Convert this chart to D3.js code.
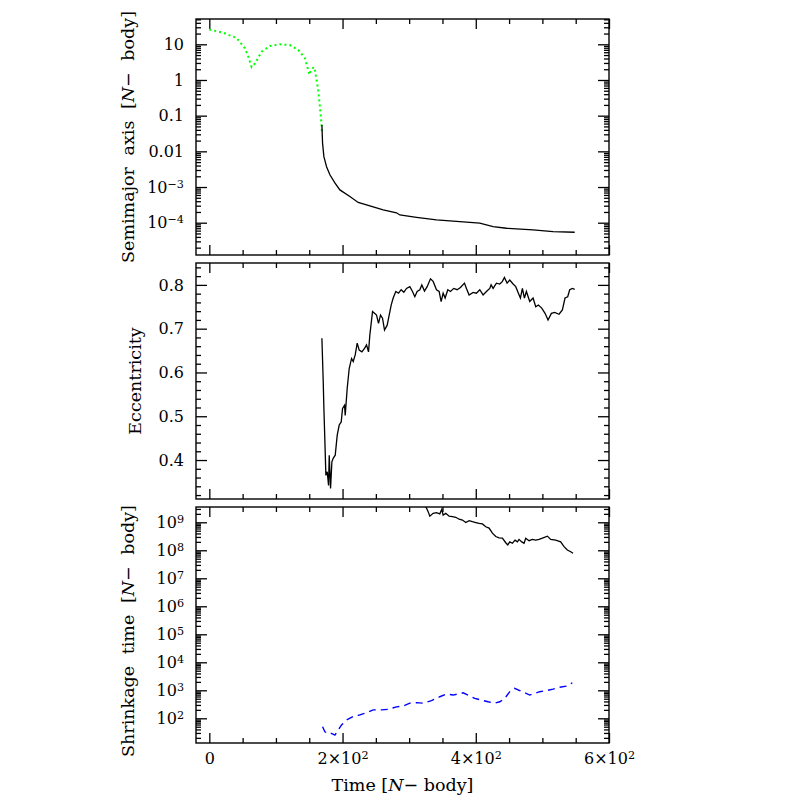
<!DOCTYPE html>
<html>
<head>
<meta charset="utf-8">
<script src="https://cdn.jsdelivr.net/npm/d3@7/dist/d3.min.js"></script>
<style>
  body { margin: 0; background: #fff; }
  text { font-family: "DejaVu Serif", serif; fill: #000; }
</style>
</head>
<body>
<svg width="797" height="797"></svg>
<script>
// --- data ---
// separation before the binary forms (green dotted)
const sepTime = [0, 21, 41, 53.5, 58.5, 63.5, 68.5, 78.5, 91, 106, 121, 133.5, 143.5, 148.5, 150, 152.5, 157, 158.5, 161, 163.5, 166, 168.5, 169];
const sepValue = [26, 21, 15, 7.7, 4.5, 2.3, 2.9, 6.2, 9, 10, 9.5, 7, 4.1, 1.9, 1.4, 1.9, 2.3, 1.9, 1, 0.52, 0.18, 0.055, 0.035];

// semimajor axis of the bound binary (black)
const semiTime = [169, 170, 172, 176, 181, 188.5, 196, 211, 223.5, 241, 261, 281, 286, 311, 341, 381, 406, 426, 446, 486, 516, 548.5];
const semiValue = [0.055, 0.017, 0.0071, 0.0037, 0.0022, 0.0013, 8.3e-4, 5.4e-4, 3.7e-4, 2.95e-4, 2.3e-4, 1.9e-4, 1.65e-4, 1.42e-4, 1.2e-4, 1.05e-4, 9.7e-5, 7.8e-5, 7e-5, 6.3e-5, 5.6e-5, 5.4e-5];

// eccentricity
const eccTime = [169, 171, 172, 175, 177, 179, 180, 182, 184, 186, 189, 192, 195, 198, 200, 203, 204, 207, 210, 213.5, 216, 219, 222, 225, 229, 233, 236, 239, 241, 245, 248, 251, 254, 257, 260, 263, 267, 270, 273, 276, 280, 284, 288, 292, 296, 301, 305, 308.5, 312, 316, 319, 323, 327, 332, 336, 341, 345, 348, 351, 354, 358, 362, 367, 372, 377, 383, 386, 390, 396, 401, 406, 411, 416, 421, 423, 426, 431, 436, 440, 443, 447, 451, 456, 460, 464, 467, 470, 473, 476, 481, 486, 490, 494, 499, 504, 508.5, 513.5, 518.5, 525, 530, 534, 538, 541, 545, 548.5];
const eccValue = [0.678, 0.579, 0.518, 0.365, 0.373, 0.342, 0.411, 0.335, 0.396, 0.404, 0.411, 0.457, 0.48, 0.487, 0.518, 0.525, 0.502, 0.564, 0.609, 0.632, 0.625, 0.64, 0.667, 0.651, 0.647, 0.655, 0.663, 0.647, 0.686, 0.739, 0.735, 0.731, 0.712, 0.731, 0.724, 0.697, 0.708, 0.731, 0.754, 0.77, 0.785, 0.781, 0.789, 0.783, 0.792, 0.796, 0.785, 0.773, 0.785, 0.789, 0.8, 0.786, 0.796, 0.814, 0.808, 0.789, 0.785, 0.762, 0.781, 0.77, 0.789, 0.785, 0.792, 0.789, 0.794, 0.804, 0.792, 0.777, 0.783, 0.781, 0.789, 0.777, 0.785, 0.792, 0.8, 0.792, 0.804, 0.802, 0.808, 0.817, 0.804, 0.811, 0.802, 0.796, 0.781, 0.77, 0.792, 0.77, 0.785, 0.762, 0.77, 0.75, 0.754, 0.747, 0.735, 0.72, 0.735, 0.737, 0.733, 0.743, 0.77, 0.773, 0.789, 0.792, 0.79];

// shrinkage time, N-body (black solid)
const shrinkTime = [320, 325, 328.5, 331, 336, 341, 346, 349, 351, 355, 360, 365, 370, 375, 380, 385, 390, 395, 400, 405, 410, 415, 420, 425, 430, 435, 440, 445, 448, 451, 455, 459, 462.5, 465, 469, 472.5, 475, 480, 485, 490, 495, 500, 507.5, 512.5, 520, 527.5, 532.5, 537.5, 542.5, 546];
const shrinkValue = [4.5e9, 3.6e9, 2.4e9, 1.66e9, 2.1e9, 2.2e9, 2.0e9, 2.9e9, 1.8e9, 2.1e9, 1.66e9, 1.58e9, 1.51e9, 1.29e9, 1.2e9, 9.8e8, 1.15e9, 1.05e9, 9.8e8, 9.1e8, 8.7e8, 6.9e8, 6.2e8, 4.1e8, 3.1e8, 2.8e8, 2.7e8, 1.86e8, 1.55e8, 2.0e8, 1.78e8, 2.3e8, 2.0e8, 2.45e8, 2.0e8, 1.78e8, 2.7e8, 2.2e8, 2.45e8, 2.3e8, 2.45e8, 2.7e8, 3.2e8, 2.45e8, 2.3e8, 2.0e8, 1.35e8, 1.02e8, 8.9e7, 7.8e7];

// shrinkage time, estimate (blue dashed)
const estTime = [170, 173.5, 178.5, 183.5, 188.5, 193.5, 198.5, 206, 216, 226, 236, 246, 258.5, 268.5, 281, 291, 301, 311, 321, 333.5, 346, 356, 366, 381, 391, 398.5, 408.5, 418.5, 428.5, 436, 443.5, 451, 458.5, 466, 473.5, 481, 488.5, 496, 506, 516, 526, 536, 545];
const estValue = [50, 33, 28, 29, 25, 38, 58, 87, 115, 132, 158, 200, 200, 209, 257, 275, 347, 363, 347, 427, 589, 741, 676, 813, 631, 513, 447, 389, 347, 389, 513, 891, 1175, 977, 813, 676, 776, 891, 977, 1096, 1288, 1413, 1862];

const timeTicks = [0, 200, 400, 600];
const timeTickLabels = [["0", ""], ["2×10", "2"], ["4×10", "2"], ["6×10", "2"]];
const semiTicks = [10, 1, 0.1, 0.01, 1e-3, 1e-4];
const semiTickLabels = [["10", ""], ["1", ""], ["0.1", ""], ["0.01", ""], ["10", "−3"], ["10", "−4"]];
const eccTicks = [0.4, 0.5, 0.6, 0.7, 0.8];
const eccTickLabels = [["0.4", ""], ["0.5", ""], ["0.6", ""], ["0.7", ""], ["0.8", ""]];
const shrinkTicks = [1e2, 1e3, 1e4, 1e5, 1e6, 1e7, 1e8, 1e9];
const shrinkTickLabels = [["10", "2"], ["10", "3"], ["10", "4"], ["10", "5"], ["10", "6"], ["10", "7"], ["10", "8"], ["10", "9"]];

// --- layout ---
const svg = d3.select('svg');
const left = 196, right = 609, panelH = 236;
const tops = [19, 263, 507];

const x = d3.scaleLinear().domain([-20, 600]).range([0, right - left]);
const xMinor = d3.range(50, 600, 50).filter(v => v % 200 !== 0);

const zip = (a, b) => a.map((v, i) => [v, b[i]]);

function logMinor(scale) {
  const [lo, hi] = scale.domain();
  const out = [];
  for (let n = Math.floor(Math.log10(lo)); n <= Math.ceil(Math.log10(hi)); n++) {
    for (let k = 2; k <= 9; k++) {
      const v = k * Math.pow(10, n);
      if (v >= lo && v <= hi) out.push(v);
    }
  }
  return out;
}

function setLabel(sel, lab) {
  sel.text(lab[0]);
  if (lab[1]) sel.append('tspan').attr('dy', '-0.45em').attr('font-size', '70%').text(lab[1]);
}

function tickGroup(g, axis, tx, ty) {
  const a = g.append('g').attr('transform', 'translate(' + tx + ',' + ty + ')').call(axis);
  a.select('.domain').remove();
  a.selectAll('line').attr('stroke', '#000').attr('stroke-width', 1.3);
  return a;
}

function panel(idx, y, majors, minors, labels, majorLen, minorLen) {
  const w = right - left;
  const g = svg.append('g').attr('transform', 'translate(' + left + ',' + tops[idx] + ')');

  g.append('clipPath').attr('id', 'clip' + idx)
    .append('rect').attr('width', w).attr('height', panelH);

  // x ticks top & bottom
  tickGroup(g, d3.axisBottom(x).tickValues(timeTicks).tickSize(-10).tickFormat(''), 0, panelH);
  tickGroup(g, d3.axisBottom(x).tickValues(xMinor).tickSize(-5).tickFormat(''), 0, panelH);
  tickGroup(g, d3.axisTop(x).tickValues(timeTicks).tickSize(-10).tickFormat(''), 0, 0);
  tickGroup(g, d3.axisTop(x).tickValues(xMinor).tickSize(-5).tickFormat(''), 0, 0);

  // y ticks left & right
  const yl = tickGroup(g, d3.axisLeft(y).tickValues(majors).tickSize(-majorLen).tickPadding(12).tickFormat(''), 0, 0);
  tickGroup(g, d3.axisLeft(y).tickValues(minors).tickSize(-minorLen).tickFormat(''), 0, 0);
  tickGroup(g, d3.axisRight(y).tickValues(majors).tickSize(-majorLen).tickFormat(''), w, 0);
  tickGroup(g, d3.axisRight(y).tickValues(minors).tickSize(-minorLen).tickFormat(''), w, 0);

  yl.attr('font-size', null).attr('font-family', null);
  yl.selectAll('.tick text')
    .style('font-size', '16px')
    .each(function (d) {
      setLabel(d3.select(this), labels[majors.indexOf(d)]);
    });

  g.append('rect')
    .attr('width', w).attr('height', panelH)
    .attr('fill', 'none').attr('stroke', '#000').attr('stroke-width', 1.4);

  return g.append('g').attr('clip-path', 'url(#clip' + idx + ')');
}

function yTitle(cx, cy, pre, post) {
  const t = svg.append('text')
    .attr('transform', 'translate(' + cx + ',' + cy + ') rotate(-90)')
    .attr('text-anchor', 'middle')
    .style('font-size', '17.5px')
    .style('word-spacing', '6px');
  t.append('tspan').text(pre);
  if (post !== undefined) {
    t.append('tspan').attr('font-style', 'italic').text('N');
    t.append('tspan').text(post);
  }
}

// --- top: semimajor axis ---
const ySemi = d3.scaleLog().domain([Math.pow(10, -4.905), Math.pow(10, 1.709)]).range([panelH, 0]);
const p1 = panel(0, ySemi, semiTicks, logMinor(ySemi), semiTickLabels, 11, 5);
const lineSemi = d3.line().x(d => x(d[0])).y(d => ySemi(d[1]));
p1.append('path')
  .attr('d', lineSemi(zip(sepTime, sepValue)))
  .attr('fill', 'none').attr('stroke', '#00ff00').attr('stroke-width', 2)
  .attr('stroke-dasharray', '2,3');
p1.append('path')
  .attr('d', lineSemi(zip(semiTime, semiValue)))
  .attr('fill', 'none').attr('stroke', '#000').attr('stroke-width', 1.3);

// --- middle: eccentricity ---
const yEcc = d3.scaleLinear().domain([0.311, 0.850]).range([panelH, 0]);
const eccMinor = d3.range(32, 86, 2).map(v => v / 100).filter(v => Math.round(v * 100) % 10 !== 0);
const p2 = panel(1, yEcc, eccTicks, eccMinor, eccTickLabels, 11, 5);
p2.append('path')
  .attr('d', d3.line().x(d => x(d[0])).y(d => yEcc(d[1]))(zip(eccTime, eccValue)))
  .attr('fill', 'none').attr('stroke', '#000').attr('stroke-width', 1.3);

// --- bottom: shrinkage time ---
const yShr = d3.scaleLog().domain([Math.pow(10, 1.118), Math.pow(10, 9.546)]).range([panelH, 0]);
const p3 = panel(2, yShr, shrinkTicks, logMinor(yShr), shrinkTickLabels, 11, 5);
const lineShr = d3.line().x(d => x(d[0])).y(d => yShr(d[1]));
p3.append('path')
  .attr('d', lineShr(zip(shrinkTime, shrinkValue)))
  .attr('fill', 'none').attr('stroke', '#000').attr('stroke-width', 1.3);
p3.append('path')
  .attr('d', lineShr(zip(estTime, estValue)))
  .attr('fill', 'none').attr('stroke', '#0000ff').attr('stroke-width', 1.4)
  .attr('stroke-dasharray', '7,5');

// x tick labels, bottom panel only
const xl = svg.append('g')
  .attr('transform', 'translate(' + left + ',' + (tops[2] + panelH) + ')')
  .call(d3.axisBottom(x).tickValues(timeTicks).tickSize(0).tickPadding(10).tickFormat(''));
xl.select('.domain').remove();
xl.attr('font-size', null).attr('font-family', null);
xl.selectAll('.tick text')
  .style('font-size', '16px')
  .each(function (d) { setLabel(d3.select(this), timeTickLabels[timeTicks.indexOf(d)]); });

// axis titles
const xt = svg.append('text')
  .attr('x', (left + right) / 2).attr('y', 791)
  .attr('text-anchor', 'middle').style('font-size', '17.5px');
xt.append('tspan').text('Time [');
xt.append('tspan').attr('font-style', 'italic').text('N');
xt.append('tspan').text('− body]');

yTitle(134, tops[0] + panelH / 2, 'Semimajor axis [', '− body]');
yTitle(141, tops[1] + panelH / 2, 'Eccentricity');
yTitle(134, tops[2] + panelH / 2 + 6, 'Shrinkage time [', '− body]');
</script>
</body>
</html>
